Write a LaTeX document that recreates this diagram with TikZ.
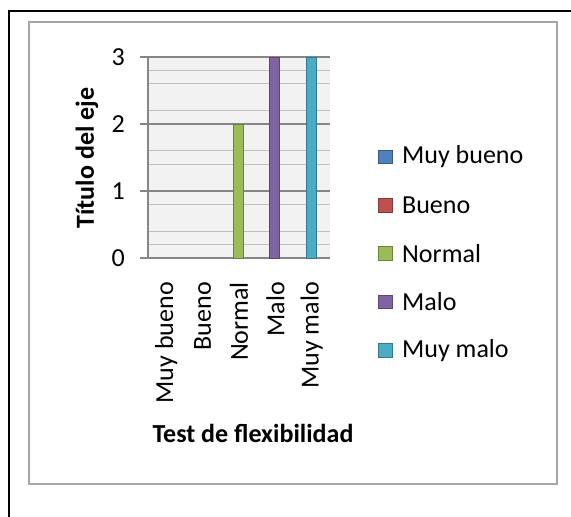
\documentclass[tikz,border=0pt]{standalone}
\usepackage{fontspec}
\setmainfont{Carlito}
\usepackage{tikz}
\usetikzlibrary{positioning}

\definecolor{muybueno}{HTML}{4F81BD}
\definecolor{bueno}{HTML}{C0504D}
\definecolor{normal}{HTML}{9BBB59}
\definecolor{malo}{HTML}{8064A2}
\definecolor{muymalo}{HTML}{4BACC6}
\definecolor{plotbg}{HTML}{F2F2F2}
\definecolor{axisgray}{HTML}{868686}

\begin{document}
\begin{tikzpicture}[x=1pt,y=-1pt,node distance=48.3pt,
    every node/.style={font=\fontsize{26}{30}\selectfont, inner sep=0pt},
    legbox/.style={draw=#1!70!black, fill=#1, line width=0.8pt, minimum size=13.5pt, on grid},
    bar/.style={draw=#1!70!black, fill=#1, line width=0.8pt},
    minorline/.style={draw=gray!50, line width=1pt},
    majorline/.style={draw=axisgray, line width=1.2pt},
    catlabel/.style={rotate=90, anchor=east},
    axistitle/.style={font=\fontsize{26}{30}\selectfont\bfseries}]
  \useasboundingbox (0,0) rectangle (571,517);
  % frames
  \draw[line width=1.5pt] (571,11) -- (9,11) -- (9,517);
  \draw[gray!70, line width=1.2pt] (29,22) rectangle (557,484);
  % plot area
  \fill[plotbg] (148,57) rectangle (330,258);
  \foreach \k in {1,2,4,5,7,8,10,11,13,14}
    \draw[minorline] (148,{57+13.4*\k}) -- (330,{57+13.4*\k});
  \foreach \v in {0,1,2,3} {
    \draw[majorline] (140,{258-67*\v}) -- (330,{258-67*\v});
    \node[anchor=east] (y\v) at (125,{258-67*\v}) {\v};
  }
  \draw[majorline] (148,57) -- (148,258);
  % bars
  \draw[bar=normal] (233,258) rectangle (243,124);
  \draw[bar=malo] (269,258) rectangle (279,57);
  \draw[bar=muymalo] (306,258) rectangle (316,57);
  % labels
  \foreach \name [count=\i] in {Muy bueno,Bueno,Normal,Malo,Muy malo}
    \node[catlabel] (cat\i) at ({148+36.4*\i-18.2},282) {\name};
  \node[axistitle, rotate=90] (ytitle) at (87,158) {Título del eje};
  \node[axistitle] (xtitle) at (253,433) {Test de flexibilidad};
  % legend
  \node[legbox=muybueno] (lb1) at (385.5,157) {};
  \node[legbox=bueno] (lb2) [below=of lb1] {};
  \node[legbox=normal] (lb3) [below=of lb2] {};
  \node[legbox=malo] (lb4) [below=of lb3] {};
  \node[legbox=muymalo] (lb5) [below=of lb4] {};
  \node[anchor=west] (lt1) at (402,157) {Muy bueno};
  \node[anchor=west] (lt2) at (lt1.west |- lb2) {Bueno};
  \node[anchor=west] (lt3) at (lt1.west |- lb3) {Normal};
  \node[anchor=west] (lt4) at (lt1.west |- lb4) {Malo};
  \node[anchor=west] (lt5) at (lt1.west |- lb5) {Muy malo};
\end{tikzpicture}
\end{document}
